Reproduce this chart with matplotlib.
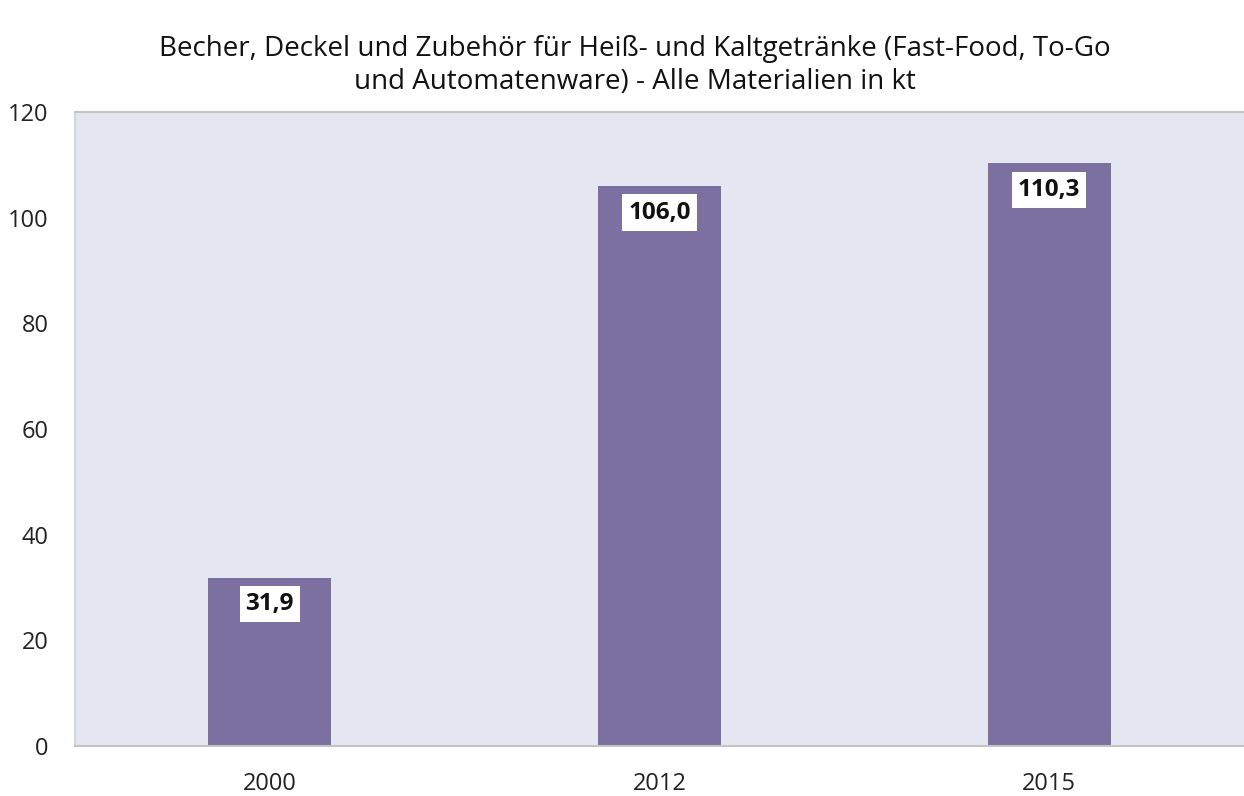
import matplotlib.pyplot as plt

plt.rcParams['font.family'] = ['Open Sans', 'DejaVu Sans']

years = ['2000', '2012', '2015']
values = [31.9, 106.0, 110.3]
labels = ['31,9', '106,0', '110,3']

fig = plt.figure(figsize=(12.44, 7.96), dpi=100)
ax = fig.add_axes([0.0603, 0.0628, 0.9397, 0.7962])
ax.set_facecolor('#E4E7F1')

x = range(len(years))
ax.bar(x, values, width=0.315, color='#7B70A0', zorder=2)

# value labels in white boxes just under the bar tops
for xi, v, lab in zip(x, values, labels):
    ax.annotate(lab, (xi, v), xytext=(0, -19), textcoords='offset points',
                ha='center', va='center', fontsize=17.5, fontweight='bold',
                color='#111111',
                bbox=dict(boxstyle='square,pad=0.25', fc='white', ec='none'))

ax.set_xlim(-0.5, 2.5)
ax.set_ylim(0, 120)
ax.set_yticks(range(0, 121, 20))
ax.set_xticks(list(x))
ax.set_xticklabels(years)
ax.tick_params(length=0, labelsize=17, colors='#222222')
ax.tick_params(axis='x', pad=19)
ax.tick_params(axis='y', pad=19)

ax.spines['right'].set_visible(False)
for side in ['top', 'bottom', 'left']:
    ax.spines[side].set_color('#C4C4C4')
    ax.spines[side].set_linewidth(1.5)
ax.spines['left'].set_color('#D4D6DE')

fig.suptitle('Becher, Deckel und Zubehör für Heiß- und Kaltgetränke (Fast-Food, To-Go\n'
             'und Automatenware) - Alle Materialien in kt',
             x=0.51, y=0.956, fontsize=20, color='#111111', linespacing=1.25)

fig.savefig('out.png', dpi=100)
